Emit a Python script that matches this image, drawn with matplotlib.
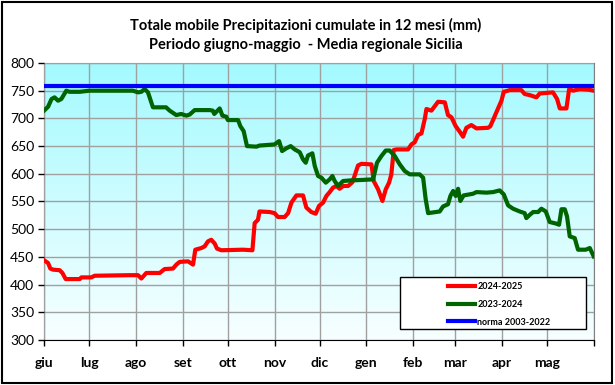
import numpy as np
import matplotlib.pyplot as plt
from matplotlib.patches import Rectangle

# day index from 1 June (0) to 31 May (365)
month_labels = ['giu', 'lug', 'ago', 'set', 'ott', 'nov', 'dic', 'gen', 'feb', 'mar', 'apr', 'mag']
month_starts = [0, 30, 61, 92, 122, 153, 183, 214, 245, 273, 304, 334, 365]

red_days = [0, 2.7, 4.2, 6, 10.4, 12.2, 14.4, 23.7, 24.8, 31.4, 33.6, 56.9, 62.4, 64.6, 67.9,
            76.8, 80, 85.6, 87.8, 90, 95.6, 98.9, 100.4, 104.4, 106.6, 108.8, 111, 113.3, 114.8,
            117.7, 132.1, 138.3, 139.8, 142, 143, 149.8, 153, 155.3, 159.7, 162, 164.2, 167.5,
            171.9, 174.1, 177.4, 180.3, 182.5, 185.2, 187.4, 189.6, 191.8, 194, 196.2, 198.5,
            201.8, 204.7, 206.2, 208.4, 210.6, 217.3, 218.8, 221.7, 224.6, 226.8, 229, 230.5,
            232.1, 233.9, 241.6, 243.8, 246, 248.2, 250.5, 252.7, 253.8, 257.1, 259.3, 261.5,
            266, 268.1, 270.4, 273.2, 275.9, 278.1, 280.3, 283.6, 287, 294.7, 296.2, 298, 300.2,
            303.6, 305.1, 309.1, 316.8, 319, 322.4, 326.8, 329, 337.8, 340.5, 342.3, 346.7,
            348.5, 351.1, 355.6, 361.1, 364.8]
red_vals = [444, 439, 429, 427, 426, 421, 410, 410, 413, 413, 416, 417, 417, 411, 421,
            421, 428, 429, 436, 441, 442, 436, 463, 466, 469, 478, 481, 474, 465,
            462, 463, 462, 511, 517, 532, 531, 529, 522, 522, 529, 548, 561,
            561, 539, 531, 528, 542, 548, 560, 567, 575, 578, 573, 578,
            578, 585, 597, 615, 618, 617, 587, 572, 551, 572, 584, 599,
            643, 644, 644, 653, 657, 670, 673, 699, 717, 714, 722, 730,
            729, 706, 702, 686, 676, 667, 683, 688, 682, 683, 686, 697, 711,
            732, 748, 751, 751, 744, 742, 738, 745, 747, 735, 718, 718,
            753, 750, 753, 752, 750]

green_days = [0, 2.7, 5, 7, 9.3, 11.5, 14.8, 17, 23.7, 30, 59, 62.4, 64.6, 66.8, 69, 72.3,
              81, 83.4, 87.8, 91, 94.5, 96.7, 100, 110, 112, 113, 116.6, 118.4, 121, 122,
              128.8, 130.3, 132.5, 134.7, 141, 143, 153, 156, 158, 160.8, 163.7, 166.4, 169.7,
              171.9, 173.7, 175.2, 178.1, 179.7, 181.9, 184.1, 187, 189.6, 191.4, 192.9, 195.1,
              196.2, 198.5, 202.9, 211.7, 218.4, 221, 223.9, 226.8, 229.4, 232.8, 236.1, 239.4,
              242.7, 249.3, 251.6, 253.3, 254.9, 262.6, 264.8, 268.1, 269.7, 271.5, 273.2, 274.8,
              276.3, 278.5, 284.7, 287, 293.6, 298, 302.4, 305.1, 308, 311.3, 315.7, 319, 320.1,
              322.4, 324.6, 327.9, 330.1, 333, 335.6, 340, 341.8, 343.4, 345.6, 347.1, 348.9,
              352.2, 354.4, 359.5, 362.2, 364.8]
green_vals = [714, 721, 735, 738, 732, 735, 750, 748, 748, 750, 750, 747, 748, 753, 747, 720,
              720, 714, 706, 708, 705, 707, 715, 715, 714, 708, 718, 705, 703, 697,
              697, 686, 677, 650, 649, 651, 653, 659, 641, 646, 650, 644, 639,
              626, 620, 633, 637, 614, 596, 593, 584, 590, 596, 587, 578,
              581, 587, 588, 589, 590, 620, 632, 642, 642, 632, 617, 605,
              599, 599, 593, 554, 529, 532, 541, 545, 560, 569, 560, 573,
              551, 561, 564, 567, 566, 567, 570, 563, 543, 537, 532, 529, 520,
              526, 531, 531, 537, 532, 513, 510, 508, 536, 536, 523, 487,
              484, 463, 463, 466, 451]

norma = 758

fig = plt.figure(figsize=(6.15, 3.85), dpi=100)
ax = fig.add_axes([44/615, 1 - 340/385, 550/615, 277/385])

# background gradient (light cyan at top, almost white at bottom)
grad = np.linspace(0, 1, 256).reshape(-1, 1)
top = np.array([0.64, 0.98, 1.0])
bot = np.array([0.97, 1.0, 1.0])
img = top * grad[..., None] + bot * (1 - grad[..., None])
ax.imshow(img, extent=[0, 365, 300, 800], origin='lower', aspect='auto', zorder=0)

ax.plot(red_days, red_vals, color='#ff0000', lw=3.0, solid_joinstyle='round', zorder=3, label='2024-2025')
ax.plot(green_days, green_vals, color='#006400', lw=3.0, solid_joinstyle='round', zorder=3, label='2023-2024')
ax.plot([0, 365], [norma, norma], color='#0000ff', lw=3.0, zorder=4, label='norma 2003-2022')

ax.set_xlim(0, 365)
ax.set_ylim(300, 800)
ax.set_yticks(np.arange(300, 801, 50))
ax.set_xticks(month_starts)
ax.set_xticklabels(month_labels + [''], fontweight='bold', fontsize=10, family='Lato')
for lab in ax.get_yticklabels():
    lab.set_fontsize(10)
    lab.set_family('Lato')
ax.tick_params(direction='out', length=4, width=1, color='black', pad=3)
ax.tick_params(axis='x', pad=8)
ax.grid(True, color='#a0a0a0', lw=1)
ax.set_axisbelow(False)
for s in ['top', 'right']:
    ax.spines[s].set_color('#808080')
for s in ['left', 'bottom']:
    ax.spines[s].set_color('black')

# legend box
ax.add_patch(Rectangle((0.647, 0.04), 0.338, 0.187, transform=ax.transAxes,
                       facecolor='white', edgecolor='black', lw=1, zorder=5))
leg = ax.legend(loc='upper left', bbox_to_anchor=(0.722, 0.236), frameon=False,
                prop={'family': 'Lato', 'weight': 'bold', 'size': 6.5},
                handlelength=2.9, handletextpad=0.3, labelspacing=0.98, borderpad=0.3)
leg.set_zorder(6)

fig.text(0.497, 1 - 25/385, 'Totale mobile Precipitazioni cumulate in 12 mesi (mm)',
         ha='center', va='center', fontsize=10.5, fontweight='bold', family='Lato')
fig.text(0.497, 1 - 45/385, 'Periodo giugno-maggio  - Media regionale Sicilia',
         ha='center', va='center', fontsize=10.5, fontweight='bold', family='Lato')

fig.patches.append(Rectangle((2/615, 2/385), 610/615, 381/385, transform=fig.transFigure,
                             fill=False, edgecolor='black', lw=1.5))

fig.savefig('out.png', dpi=100)
